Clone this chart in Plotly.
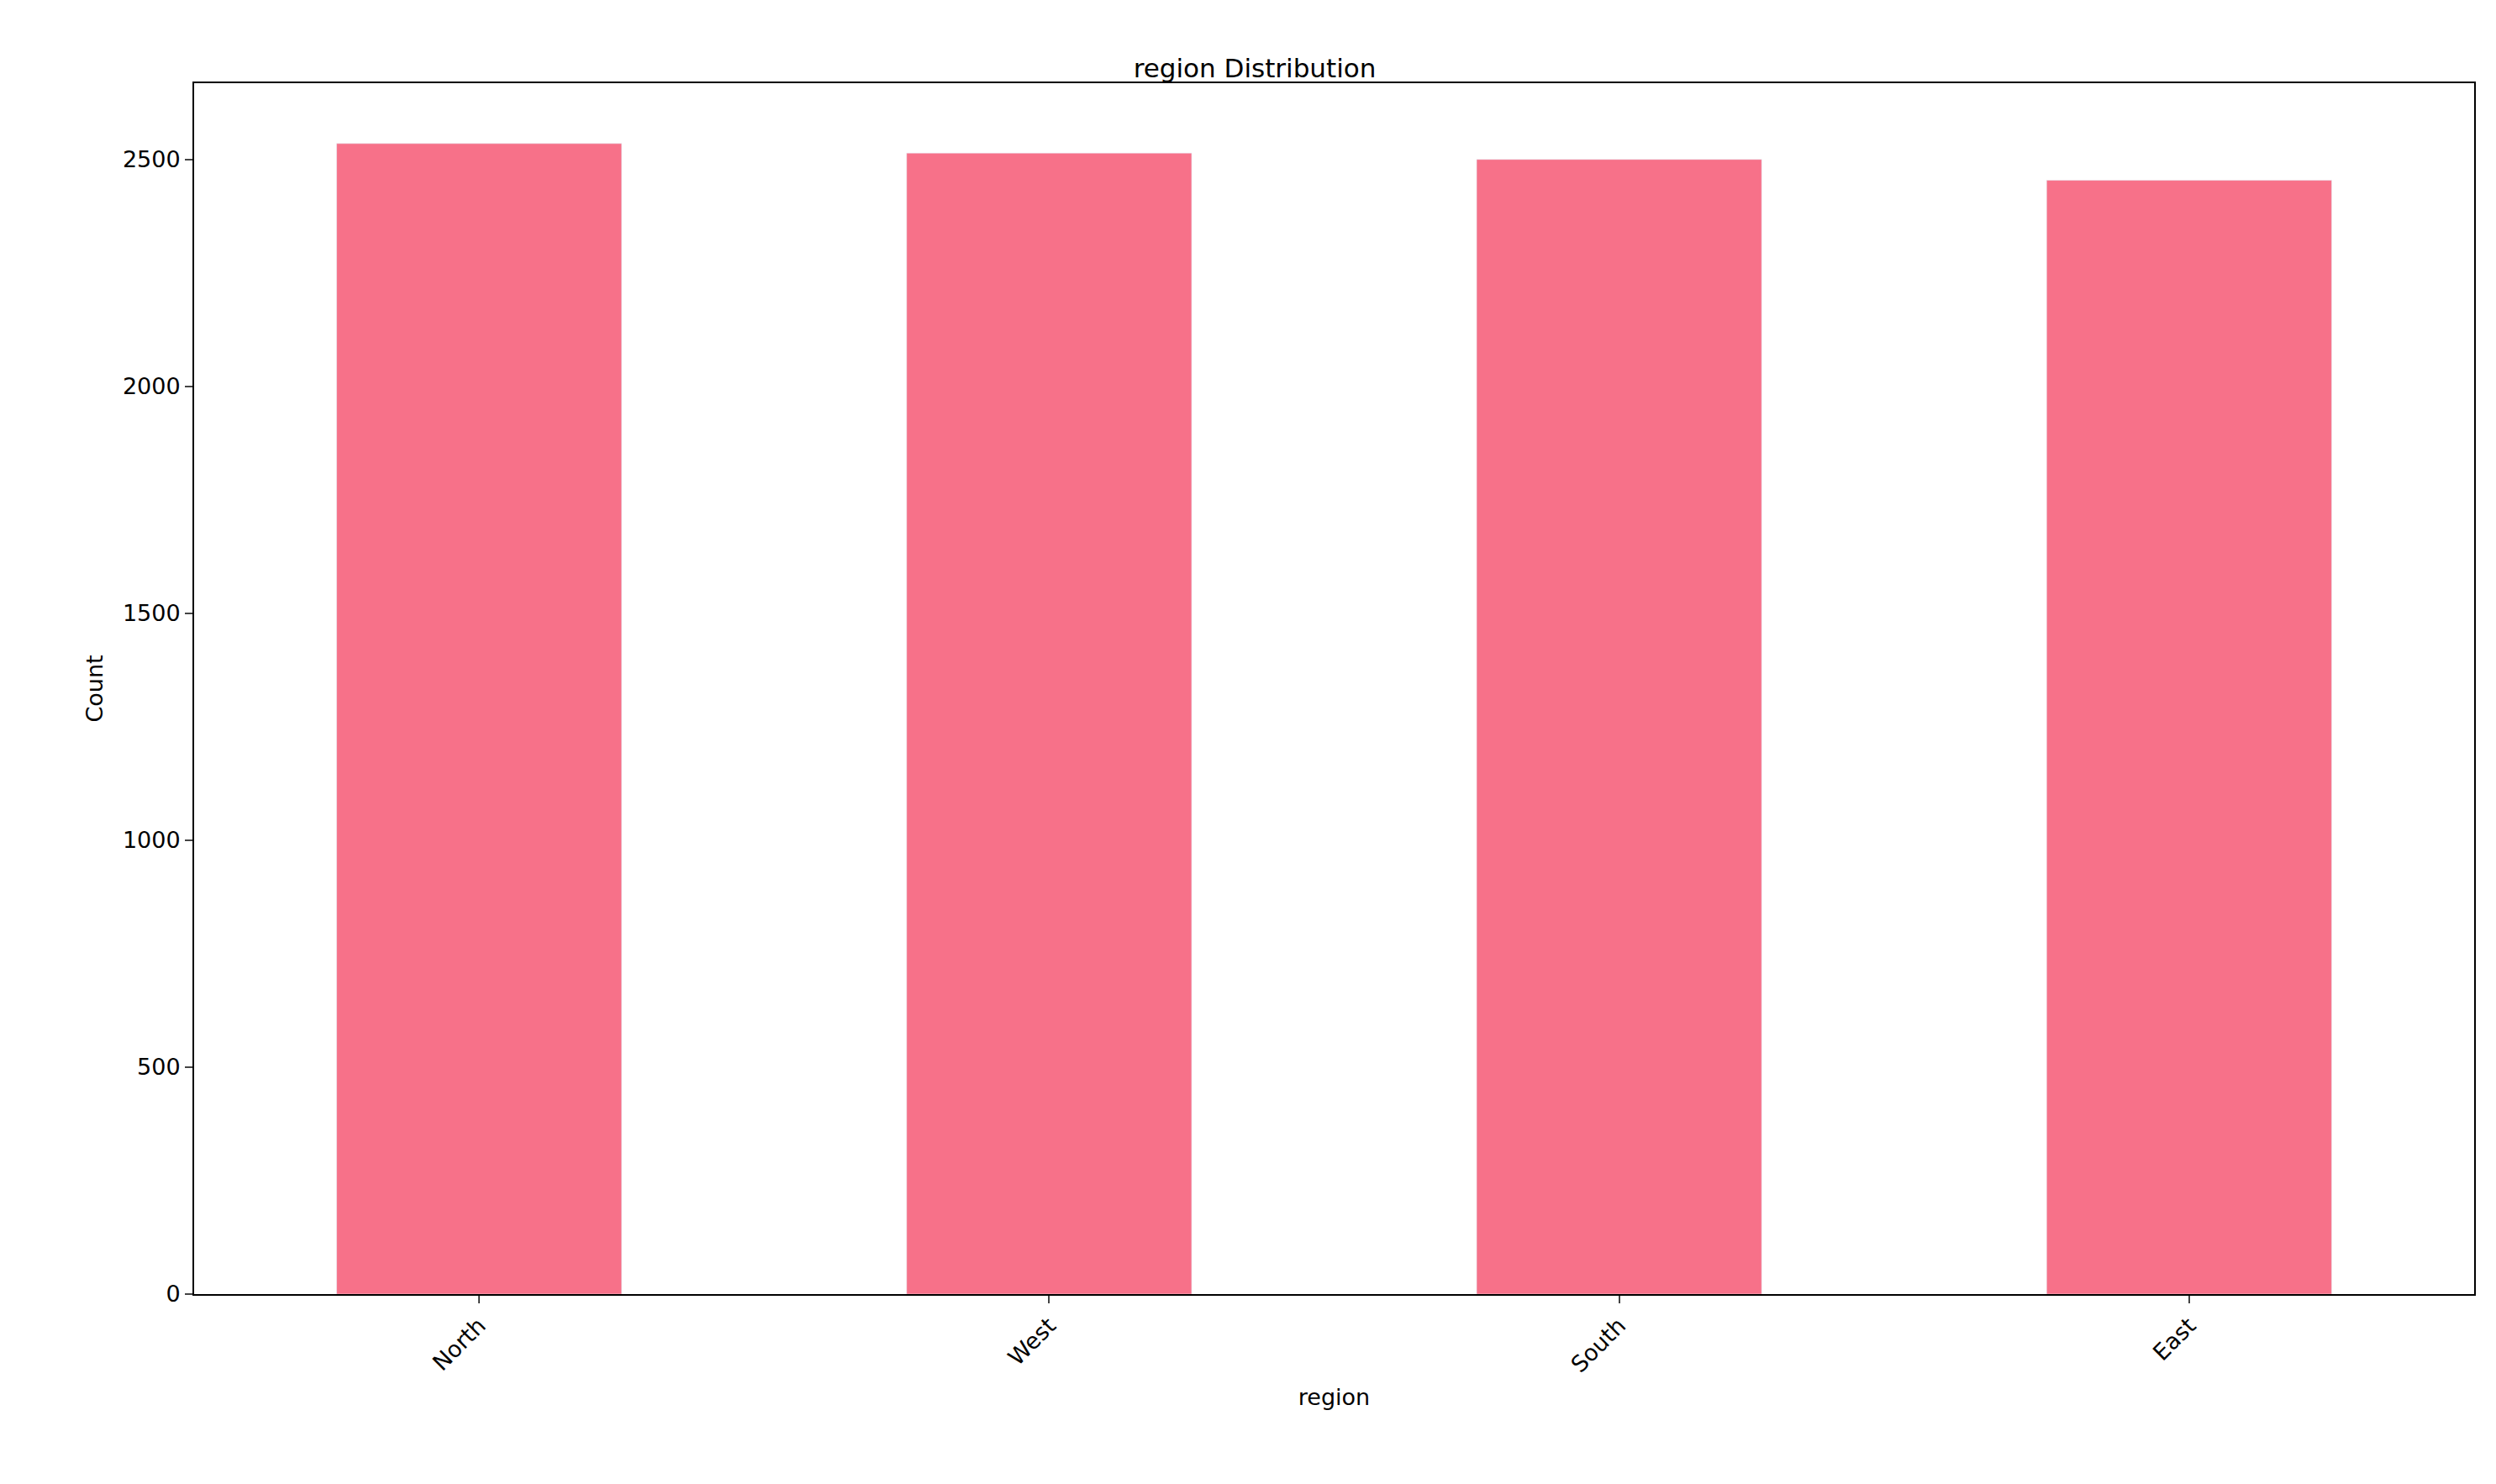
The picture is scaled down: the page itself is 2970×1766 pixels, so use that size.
import plotly.graph_objects as go

regions = ["North", "West", "South", "East"]
counts = [2535, 2514, 2500, 2454]

fig = go.Figure(go.Bar(x=regions, y=counts, marker_color="#f77189", width=0.5))

axis_style = dict(showline=True, linecolor="black", linewidth=2, mirror=True,
                  ticks="outside", ticklen=9, tickwidth=2, showgrid=False,
                  zeroline=False, tickfont=dict(size=27, color="black"))

fig.update_layout(
    width=2970, height=1766,
    paper_bgcolor="white", plot_bgcolor="white",
    font=dict(family="DejaVu Sans", color="black"),
    title=dict(text="region Distribution", x=0.5, xanchor="center",
               y=0.965, font=dict(size=31)),
    margin=dict(l=223, r=34, t=91, b=234),
    showlegend=False,
)
fig.update_xaxes(axis_style, range=[-0.5, 3.5], tickangle=-45,
                 title=dict(text="region", font=dict(size=27)))
fig.update_yaxes(axis_style, range=[0, 2668], tickvals=[0, 500, 1000, 1500, 2000, 2500],
                 title=dict(text="Count", font=dict(size=27)))

fig.write_html("out.html")
